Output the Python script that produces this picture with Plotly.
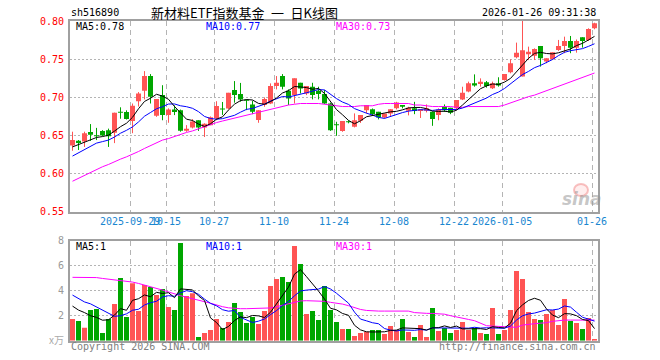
import plotly.graph_objects as go

dates = [
    "2025-09-15", "2025-09-16", "2025-09-17", "2025-09-18", "2025-09-19", "2025-09-22", "2025-09-23", "2025-09-24",
    "2025-09-25", "2025-09-26", "2025-09-29", "2025-09-30", "2025-10-09", "2025-10-10", "2025-10-13", "2025-10-14",
    "2025-10-15", "2025-10-16", "2025-10-17", "2025-10-20", "2025-10-21", "2025-10-22", "2025-10-23", "2025-10-24",
    "2025-10-27", "2025-10-28", "2025-10-29", "2025-10-30", "2025-10-31", "2025-11-03", "2025-11-04", "2025-11-05",
    "2025-11-06", "2025-11-07", "2025-11-10", "2025-11-11", "2025-11-12", "2025-11-13", "2025-11-14", "2025-11-17",
    "2025-11-18", "2025-11-19", "2025-11-20", "2025-11-21", "2025-11-24", "2025-11-25", "2025-11-26", "2025-11-27",
    "2025-11-28", "2025-12-01", "2025-12-02", "2025-12-03", "2025-12-04", "2025-12-05", "2025-12-08", "2025-12-09",
    "2025-12-10", "2025-12-11", "2025-12-12", "2025-12-15", "2025-12-16", "2025-12-17", "2025-12-18", "2025-12-19",
    "2025-12-22", "2025-12-23", "2025-12-24", "2025-12-25", "2025-12-26", "2025-12-29", "2025-12-30", "2025-12-31",
    "2026-01-05", "2026-01-06", "2026-01-07", "2026-01-08", "2026-01-09", "2026-01-12", "2026-01-13", "2026-01-14",
    "2026-01-15", "2026-01-16", "2026-01-19", "2026-01-20", "2026-01-21", "2026-01-22", "2026-01-23", "2026-01-26",
]

open_ = [0.637, 0.643, 0.642, 0.6545, 0.650, 0.656, 0.657, 0.6535, 0.681, 0.681,
         0.669, 0.695, 0.7087, 0.728, 0.6759, 0.703, 0.6768, 0.684, 0.6833, 0.6562,
         0.6606, 0.670, 0.6606, 0.6636, 0.6724, 0.685, 0.6855, 0.7096, 0.7043, 0.696,
         0.6908, 0.6702, 0.690, 0.6921, 0.7148, 0.728, 0.7087, 0.703, 0.7192, 0.7052,
         0.714, 0.7087, 0.7043, 0.6921, 0.664, 0.6558, 0.668, 0.6614, 0.6693, 0.6833,
         0.6846, 0.6811, 0.6737, 0.679, 0.6856, 0.690, 0.6824, 0.6856, 0.682, 0.6824,
         0.6811, 0.6768, 0.6877, 0.6864, 0.6856, 0.6974, 0.7076, 0.7185, 0.7176, 0.7198,
         0.712, 0.7185, 0.7229, 0.733, 0.7526, 0.7275, 0.7566, 0.7548, 0.7675, 0.747,
         0.7504, 0.7622, 0.7675, 0.774, 0.7653, 0.7789, 0.7754, 0.7907]
high = [0.655, 0.644, 0.655, 0.665, 0.660, 0.657, 0.659, 0.680, 0.687, 0.683,
        0.692, 0.707, 0.7345, 0.7306, 0.6978, 0.716, 0.6856, 0.6895, 0.684, 0.6636,
        0.6715, 0.670, 0.666, 0.675, 0.695, 0.694, 0.706, 0.7214, 0.719, 0.6974,
        0.6956, 0.6833, 0.700, 0.7184, 0.728, 0.7306, 0.7105, 0.725, 0.7192, 0.7148,
        0.7192, 0.714, 0.7096, 0.693, 0.668, 0.6689, 0.6695, 0.679, 0.6768, 0.690,
        0.6855, 0.6811, 0.679, 0.6846, 0.6942, 0.690, 0.6877, 0.6942, 0.6846, 0.6908,
        0.6815, 0.6856, 0.6908, 0.6864, 0.6965, 0.714, 0.7207, 0.7302, 0.725, 0.7215,
        0.7207, 0.7264, 0.7307, 0.750, 0.7719, 0.801, 0.7666, 0.7644, 0.7675, 0.7513,
        0.7592, 0.7754, 0.7797, 0.7806, 0.776, 0.7789, 0.7907, 0.798]
low = [0.630, 0.631, 0.635, 0.643, 0.644, 0.649, 0.635, 0.640, 0.672, 0.671,
       0.653, 0.688, 0.6974, 0.692, 0.6745, 0.670, 0.6667, 0.6768, 0.655, 0.6549,
       0.6593, 0.656, 0.648, 0.6636, 0.670, 0.677, 0.684, 0.6931, 0.6943, 0.6833,
       0.678, 0.6667, 0.6877, 0.6912, 0.7105, 0.7105, 0.690, 0.692, 0.7052, 0.703,
       0.6974, 0.6974, 0.6912, 0.656, 0.6496, 0.6549, 0.666, 0.6606, 0.6665, 0.679,
       0.6768, 0.6711, 0.6724, 0.6745, 0.6842, 0.6856, 0.6764, 0.678, 0.673, 0.6803,
       0.6627, 0.670, 0.681, 0.678, 0.6833, 0.6965, 0.7067, 0.7141, 0.7141, 0.7128,
       0.711, 0.7141, 0.722, 0.7316, 0.7513, 0.7275, 0.749, 0.749, 0.7404, 0.7448,
       0.749, 0.761, 0.758, 0.758, 0.7587, 0.7653, 0.774, 0.7894]
close = [0.644, 0.640, 0.653, 0.651, 0.649, 0.650, 0.649, 0.680, 0.680, 0.6715,
         0.689, 0.705, 0.728, 0.7008, 0.6978, 0.6768, 0.6842, 0.681, 0.6562, 0.6588,
         0.6685, 0.6606, 0.6653, 0.6738, 0.6886, 0.684, 0.706, 0.703, 0.6974, 0.6955,
         0.6811, 0.6833, 0.6978, 0.7148, 0.7192, 0.714, 0.6987, 0.725, 0.7118, 0.7148,
         0.703, 0.7043, 0.6921, 0.657, 0.6635, 0.6689, 0.6675, 0.670, 0.6768, 0.690,
         0.678, 0.6737, 0.679, 0.6846, 0.6934, 0.6877, 0.6864, 0.682, 0.6846, 0.6856,
         0.6715, 0.6842, 0.6833, 0.680, 0.6965, 0.706, 0.7185, 0.7155, 0.7207, 0.715,
         0.7185, 0.7155, 0.7307, 0.7448, 0.7587, 0.762, 0.760, 0.7636, 0.7513, 0.7513,
         0.7592, 0.7675, 0.774, 0.7653, 0.774, 0.774, 0.7898, 0.7972]

ma5 = [0.635, 0.638, 0.642, 0.645, 0.6474, 0.6486, 0.6504, 0.6558, 0.6616, 0.6661,
       0.6739, 0.6851, 0.6947, 0.6989, 0.7041, 0.7017, 0.6975, 0.6881, 0.6792, 0.6714,
       0.6697, 0.6650, 0.6619, 0.6654, 0.6714, 0.6745, 0.6835, 0.6911, 0.6958, 0.6972,
       0.6966, 0.6921, 0.6910, 0.6945, 0.6992, 0.7058, 0.7089, 0.7143, 0.7137, 0.7129,
       0.7107, 0.7118, 0.7052, 0.6942, 0.6840, 0.6772, 0.6698, 0.6654, 0.6693, 0.6746,
       0.6765, 0.6777, 0.6795, 0.6811, 0.6817, 0.6837, 0.6862, 0.6868, 0.6868, 0.6853,
       0.6820, 0.6816, 0.6818, 0.6809, 0.6831, 0.6900, 0.6969, 0.7033, 0.7114, 0.7151,
       0.7176, 0.7170, 0.7201, 0.7249, 0.7336, 0.7423, 0.7512, 0.7578, 0.7591, 0.7576,
       0.7571, 0.7586, 0.7607, 0.7635, 0.7680, 0.7710, 0.7754, 0.7801]
ma10 = [0.623, 0.627, 0.631, 0.636, 0.640, 0.642, 0.644, 0.648, 0.653, 0.6568,
        0.6613, 0.6678, 0.6753, 0.6802, 0.6851, 0.6878, 0.6913, 0.6914, 0.6890, 0.6878,
        0.6857, 0.6813, 0.6750, 0.6723, 0.6714, 0.6721, 0.6743, 0.6765, 0.6806, 0.6843,
        0.6855, 0.6878, 0.6911, 0.6952, 0.6982, 0.7012, 0.7005, 0.7027, 0.7041, 0.7061,
        0.7082, 0.7103, 0.7098, 0.7040, 0.6984, 0.6939, 0.6908, 0.6853, 0.6818, 0.6793,
        0.6768, 0.6738, 0.6724, 0.6752, 0.6782, 0.6801, 0.6820, 0.6832, 0.6839, 0.6835,
        0.6829, 0.6839, 0.6843, 0.6839, 0.6842, 0.6860, 0.6892, 0.6926, 0.6962, 0.6991,
        0.7038, 0.7070, 0.7117, 0.7182, 0.7244, 0.7300, 0.7341, 0.7390, 0.7420, 0.7456,
        0.7497, 0.7549, 0.7592, 0.7613, 0.7628, 0.7640, 0.7670, 0.7704]
ma30 = [0.590, 0.594, 0.598, 0.602, 0.605, 0.609, 0.612, 0.616, 0.619, 0.622,
        0.625, 0.629, 0.633, 0.637, 0.640, 0.644, 0.646, 0.649, 0.651, 0.654,
        0.656, 0.659, 0.662, 0.664, 0.667, 0.669, 0.671, 0.673, 0.675, 0.677,
        0.679, 0.680, 0.682, 0.684, 0.686, 0.688, 0.690, 0.691, 0.692, 0.692,
        0.692, 0.692, 0.691, 0.690, 0.689, 0.688, 0.688, 0.688, 0.689, 0.689,
        0.689, 0.691, 0.692, 0.692, 0.692, 0.692, 0.692, 0.690, 0.690, 0.689,
        0.688, 0.688, 0.688, 0.688, 0.687, 0.687, 0.688, 0.688, 0.688, 0.688,
        0.688, 0.688, 0.690, 0.693, 0.695, 0.698, 0.701, 0.703, 0.706, 0.709,
        0.711, 0.714, 0.717, 0.720, 0.723, 0.726, 0.729, 0.732]

volume = [1.73, 1.57, 1.04, 2.45, 2.53, 0.61, 1.73, 2.93, 5.01, 1.89,
          4.59, 2.37, 4.45, 4.29, 3.65, 4.13, 2.69, 2.45, 7.81, 3.57,
          3.79, 0.29, 0.61, 0.85, 1.73, 1.01, 1.49, 3.01, 2.29, 1.41,
          1.89, 1.33, 2.37, 4.37, 4.93, 5.09, 4.69, 7.57, 6.13, 2.13,
          2.37, 1.65, 4.37, 2.45, 1.49, 0.93, 0.93, 0.37, 0.61, 0.72,
          0.85, 0.85, 0.53, 1.17, 0.85, 1.73, 0.69, 0.29, 1.25, 0.29,
          2.61, 0.77, 1.01, 0.61, 0.85, 1.49, 0.85, 1.01, 0.61, 0.53,
          2.61, 0.53, 0.85, 2.45, 5.57, 4.93, 2.29, 1.73, 1.65, 2.13,
          2.45, 1.25, 3.33, 1.57, 1.41, 0.93, 1.81, 0.13]
vma5 = [2.77, 2.45, 2.25, 2.00, 1.864, 1.64, 1.672, 2.05, 2.562, 2.434,
        3.23, 3.358, 3.662, 3.518, 3.87, 3.778, 3.842, 3.442, 4.146, 4.13,
        4.062, 3.582, 3.214, 1.822, 1.454, 0.898, 1.138, 1.618, 1.906, 1.842,
        2.018, 1.986, 1.858, 2.274, 2.978, 3.618, 4.29, 5.33, 5.682, 5.122,
        4.578, 3.97, 3.33, 2.594, 2.466, 2.178, 2.034, 1.234, 0.866, 0.712,
        0.696, 0.68, 0.712, 0.824, 0.85, 1.026, 0.994, 0.946, 0.962, 0.85,
        1.026, 1.042, 1.186, 1.058, 1.17, 0.946, 0.962, 0.962, 0.962, 0.898,
        1.122, 1.058, 1.026, 1.394, 2.402, 2.866, 3.218, 3.394, 3.234, 2.546,
        2.05, 1.842, 2.162, 2.146, 2.002, 1.698, 1.61, 0.97]
vma10 = [3.65, 3.35, 3.10, 2.95, 2.70, 2.45, 2.15, 1.95, 2.00, 2.149,
         2.435, 2.515, 2.856, 3.04, 3.152, 3.504, 3.6, 3.552, 3.832, 4.0,
         3.92, 3.712, 3.328, 2.984, 2.792, 2.48, 2.36, 2.416, 1.864, 1.648,
         1.458, 1.562, 1.738, 2.09, 2.41, 2.818, 3.138, 3.594, 3.978, 4.05,
         4.098, 4.13, 4.33, 4.138, 3.794, 3.378, 3.002, 2.282, 1.73, 1.589,
         1.437, 1.357, 0.973, 0.845, 0.781, 0.861, 0.837, 0.829, 0.893, 0.85,
         1.026, 1.018, 1.066, 1.01, 1.01, 0.986, 1.002, 1.074, 1.01, 1.034,
         1.034, 1.01, 0.994, 1.178, 1.65, 1.994, 2.138, 2.21, 2.314, 2.474,
         2.458, 2.53, 2.778, 2.69, 2.274, 1.874, 1.726, 1.566]
vma30 = [5.07, 5.07, 5.07, 5.07, 5.05, 4.98, 4.92, 4.90, 4.85, 4.78,
         4.69, 4.58, 4.46, 4.35, 4.20, 4.05, 3.90, 3.72, 3.60, 3.48,
         3.38, 3.25, 3.12, 3.00, 2.85, 2.72, 2.63, 2.58, 2.56, 2.56,
         2.56, 2.56, 2.58, 2.62, 2.72, 2.85, 2.98, 3.09, 3.18, 3.20,
         3.20, 3.20, 3.15, 3.07, 3.00, 2.93, 2.80, 2.65, 2.50, 2.42,
         2.37, 2.37, 2.37, 2.37, 2.37, 2.37, 2.37, 2.25, 2.20, 2.19,
         2.18, 2.14, 2.12, 2.00, 1.88, 1.78, 1.70, 1.60, 1.40, 1.20,
         1.17, 1.15, 1.12, 1.10, 1.07, 1.25, 1.32, 1.36, 1.40, 1.44,
         1.55, 1.63, 1.65, 1.65, 1.65, 1.65, 1.65, 1.65]

tick_dates = ["2025-09-29", "2025-10-15", "2025-10-27", "2025-11-10", "2025-11-24",
              "2025-12-08", "2025-12-22", "2026-01-05", "2026-01-26"]
tick_labels = ["2025-09-29", "10-15", "10-27", "11-10", "11-24", "12-08", "12-22", "2026-01-05", "01-26"]
price_ticks = [0.55, 0.60, 0.65, 0.70, 0.75, 0.80]
vol_ticks = [2, 4, 6, 8]

# ---------------- styling / geometry ----------------
W, H = 660, 360
PL, PR = 70, 598
P_TOP, P_BOT = 20.5, 211.7
V_TOP, V_BOT = 240.7, 340.7
RED = "#ff5454"
GREEN = "#00a600"
GRID = "#b4b4b4"
FRAME = "#a0a0a0"
MONO = "DejaVu Sans Mono, Liberation Mono, monospace"
SLOT = 6.0


def py(y):
    return 1 - y / H


x = list(range(len(dates)))
x0 = (PL - 72.5) / SLOT
x1 = (PR - 72.5) / SLOT
grid_x = [dates.index(d) - 0.37 for d in tick_dates]

up = [c >= o for o, c in zip(open_, close)]
colors = [RED if u else GREEN for u in up]
MINB = 0.0013
body_base = [min(o, c) for o, c in zip(open_, close)]
body_h = [max(abs(c - o), MINB) for o, c in zip(open_, close)]

fig = go.Figure()

# candle wicks
for flag, col in ((True, RED), (False, GREEN)):
    wx, wy = [], []
    for i in x:
        if up[i] == flag:
            wx += [i, i, None]
            wy += [low[i], high[i], None]
    fig.add_trace(go.Scatter(x=wx, y=wy, mode="lines", line=dict(color=col, width=1),
                             hoverinfo="skip", showlegend=False, xaxis="x", yaxis="y"))

# candle bodies
fig.add_trace(go.Bar(x=x, y=body_h, base=body_base, width=5 / 6,
                     marker=dict(color=colors, line=dict(width=0)),
                     showlegend=False, xaxis="x", yaxis="y"))

# price moving averages
for series, col in ((ma30, "#ff00ff"), (ma10, "#0000ff"), (ma5, "#000000")):
    fig.add_trace(go.Scatter(x=x, y=series, mode="lines", line=dict(color=col, width=1),
                             showlegend=False, xaxis="x", yaxis="y"))

# volume bars
fig.add_trace(go.Bar(x=x, y=volume, width=5 / 6,
                     marker=dict(color=colors, line=dict(width=0)),
                     showlegend=False, xaxis="x2", yaxis="y2"))
for series, col in ((vma30, "#ff00ff"), (vma10, "#0000ff"), (vma5, "#000000")):
    fig.add_trace(go.Scatter(x=x, y=series, mode="lines", line=dict(color=col, width=1),
                             showlegend=False, xaxis="x2", yaxis="y2"))

xax = dict(domain=[PL / W, PR / W], range=[x0, x1], tickvals=grid_x, showticklabels=False,
           ticks="", showgrid=True, gridcolor=GRID, gridwidth=1, griddash="5px,4px",
           zeroline=False, showline=True, mirror=True, linecolor=FRAME, linewidth=2, fixedrange=True)
fig.update_layout(
    width=W, height=H,
    margin=dict(l=0, r=0, t=0, b=0),
    paper_bgcolor="white", plot_bgcolor="white",
    barmode="overlay", showlegend=False,
    xaxis=dict(xax, anchor="y"),
    xaxis2=dict(xax, anchor="y2"),
    yaxis=dict(domain=[py(P_BOT), py(P_TOP)], range=[0.55, 0.55 + (P_BOT - P_TOP) / 762],
               tickvals=price_ticks, showticklabels=False, ticks="", showgrid=True,
               gridcolor=GRID, gridwidth=1, griddash="2px,2px", zeroline=False,
               showline=True, mirror=True, linecolor=FRAME, linewidth=2, fixedrange=True),
    yaxis2=dict(domain=[py(V_BOT), py(V_TOP)], range=[0, 8],
                tickvals=vol_ticks, showticklabels=False, ticks="", showgrid=True,
                gridcolor=GRID, gridwidth=1, griddash="2px,2px", zeroline=False,
                showline=True, mirror=True, linecolor=FRAME, linewidth=2, fixedrange=True),
)

ann = []


def txt(text, x, y, color="#000000", size=10, xanchor="left", xref="paper", yref="paper",
        family=MONO, **kw):
    ann.append(dict(text=text, x=x, y=y, xref=xref, yref=yref, xanchor=xanchor,
                    yanchor="middle", showarrow=False, font=dict(family=family, size=size, color=color), **kw))


# price axis labels
for p in price_ticks:
    txt(f"{p:.2f}", 66 / W, p, color="#ff0000", xanchor="right", yref="y")
# volume axis labels
for v in vol_ticks:
    txt(str(v), 66 / W, v, color="#999999", xanchor="right", yref="y2")
txt("x万", 66 / W, py(339), color="#aaaaaa", xanchor="right",
    family="Noto Sans CJK SC, DejaVu Sans Mono", size=10)
# date labels
for d, lab in zip(tick_dates, tick_labels):
    txt(lab, dates.index(d) - 0.37, py(221.5), color="#1a86d0", xanchor="center", xref="x")

# header
txt("sh516890", 69 / W, py(13), color="#000000")
txt("新材料ETF指数基金\u2002一\u2002日K线图", 149 / W, py(13), color="#000000",
    family="Noto Sans CJK SC", size=13)
txt("2026-01-26 09:31:38", 598 / W, py(13), color="#000000", xanchor="right")

# legends
txt("MA5:0.78", 74 / W, py(26.5), color="#000000")
txt("MA10:0.77", 204 / W, py(26.5), color="#0000ff")
txt("MA30:0.73", 334 / W, py(26.5), color="#ff00ff")
txt("MA5:1", 74 / W, py(246.5), color="#000000")
txt("MA10:1", 204 / W, py(246.5), color="#0000ff")
txt("MA30:1", 334 / W, py(246.5), color="#ff00ff")

# footer
txt("Copyright 2026 SINA.COM", 69 / W, py(346), color="#808080")
txt("http://finance.sina.com.cn", 598 / W, py(346), color="#808080", xanchor="right")

# sina watermark
txt("sina", 582 / W, py(199), color="rgba(150,150,150,0.55)", xanchor="center",
    family="DejaVu Sans", size=17)
ann[-1]["font"]["weight"] = "bold"
ann[-1]["font"]["style"] = "italic"

fig.update_layout(annotations=ann)
fig.add_shape(type="circle", xref="paper", yref="paper",
              x0=574 / W, x1=588 / W, y0=py(196), y1=py(184),
              line=dict(color="rgba(240,120,120,0.45)", width=2),
              fillcolor="rgba(255,200,200,0.3)")

fig.write_html("out.html",
               config={"displayModeBar": False, "staticPlot": True},
               post_script="document.body.style.margin='0';document.body.style.padding='0';"
                           "document.body.style.overflow='hidden';")
